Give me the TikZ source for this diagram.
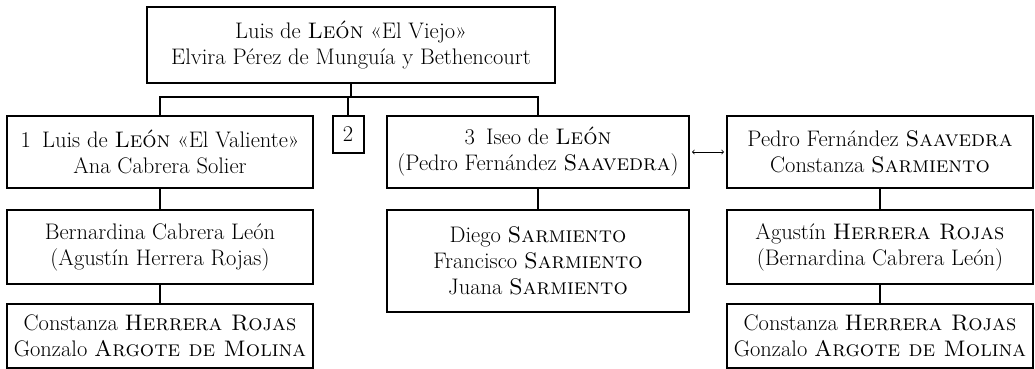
\documentclass[tikz,border=0pt]{standalone}
\usepackage{fontspec}
\usetikzlibrary{positioning}

\newcommand{\osnum}[1]{{\addfontfeatures{Numbers=OldStyle}#1}}

\begin{document}
\begin{tikzpicture}[x=1pt, y=-1pt, line width=2pt,
        fam/.style = {draw, align=center, inner sep=0pt, minimum width=306pt, minimum height=72pt},
        font=\fontsize{22.5}{26}\selectfont]
    \useasboundingbox (0,0) rectangle (1035,368);

    % first generation
    \node[fam, minimum width=408pt, minimum height=76pt] (viejo) at (351,45) {Luis de \textsc{León} «El Viejo»\\Elvira Pérez de Munguía y Bethencourt};

    % children
    \node[fam] (valiente) at (160,152) {\osnum{1}\enspace Luis de \textsc{León} «El Valiente»\\Ana Cabrera Solier};
    \node[fam, minimum width=31pt, minimum height=37pt] (dos) at (348,134.5) {\osnum{2}};
    \node[fam, minimum width=302pt] (iseo) at (538,152) {\osnum{3}\enspace Iseo de \textsc{León}\\(Pedro Fernández \textsc{Saavedra})};
    \node[fam] (pedro) at (880,152) {Pedro Fernández \textsc{Saavedra}\\Constanza \textsc{Sarmiento}};

    % descendants
    \node[fam, minimum height=74pt] (bernardina) [below=20pt of valiente] {Bernardina Cabrera León\\(Agustín Herrera Rojas)};
    \node[fam, minimum height=64pt] (constanzaA) [below=18pt of bernardina] {Constanza \textsc{Herrera Rojas}\\Gonzalo \textsc{Argote de Molina}};
    \node[fam, minimum width=302pt, minimum height=102pt] (diego) [below=20pt of iseo] {Diego \textsc{Sarmiento}\\Francisco \textsc{Sarmiento}\\Juana \textsc{Sarmiento}};
    \node[fam, minimum height=74pt] (agustin) [below=20pt of pedro] {Agustín \textsc{Herrera Rojas}\\(Bernardina Cabrera León)};
    \node[fam, minimum height=64pt] (constanzaB) [below=18pt of agustin] {Constanza \textsc{Herrera Rojas}\\Gonzalo \textsc{Argote de Molina}};

    % lines
    \coordinate (bar) at (0,97);
    \draw (viejo.south) -- (viejo.south |- bar);
    \draw (valiente.north) |- (iseo.north |- bar) -- (iseo.north);
    \draw (dos.north) -- (dos.north |- bar);
    \draw (valiente) -- (bernardina);
    \draw (bernardina) -- (constanzaA);
    \draw (iseo) -- (diego);
    \draw (pedro) -- (agustin);
    \draw (agustin) -- (constanzaB);
    \draw[<->, line width=0.8pt, shorten <=2pt, shorten >=2pt] (iseo) -- (pedro);
\end{tikzpicture}
\end{document}
